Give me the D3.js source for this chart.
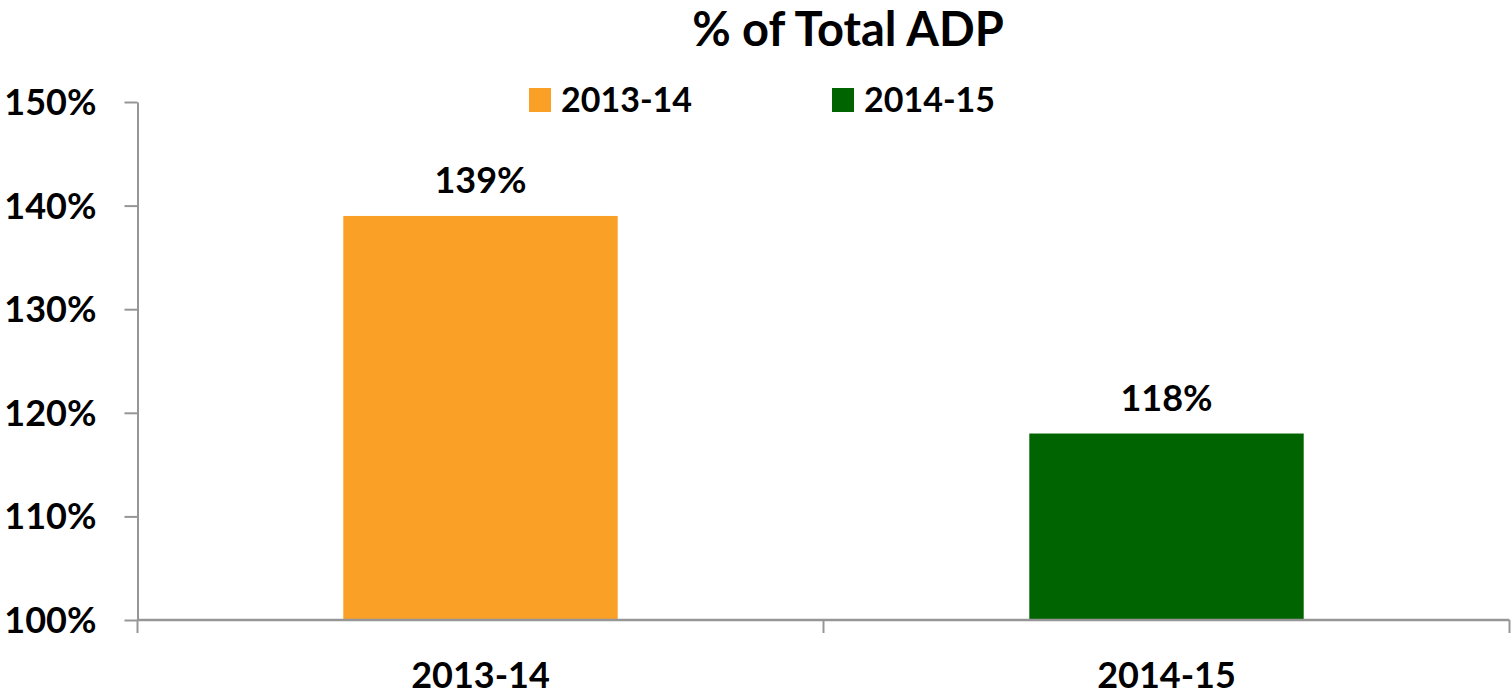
<!DOCTYPE html>
<html>
<head>
<meta charset="utf-8">
<script src="https://cdn.jsdelivr.net/npm/d3@7"></script>
<style>
  html, body { margin: 0; padding: 0; background: #fff; }
  svg { display: block; }
  text { font-family: Lato, "Open Sans", sans-serif; font-weight: 700; fill: #000; }
</style>
</head>
<body>
<svg id="chart" width="1511" height="697"></svg>
<script>
const title = "% of Total ADP";
const categories = ["2013-14", "2014-15"];
const values = [1.39, 1.18];
const seriesColors = ["#FBA026", "#006400"];
const yTicks = [1.0, 1.1, 1.2, 1.3, 1.4, 1.5];

const svg = d3.select("#chart");
const axisColor = "#969696";

const x = d3.scaleBand().domain(categories).range([137.5, 1509.5]).padding(0);
const y = d3.scaleLinear().domain([1.0, 1.5]).range([620, 102]);
const fmt = d3.format(".0%");
const barW = x.bandwidth() * 0.4;

// Title
svg.append("text")
  .attr("x", 848).attr("y", 46)
  .attr("text-anchor", "middle")
  .style("font-size", "47px")
  .text(title);

// Legend
const legendX = [529, 832];
categories.forEach((c, i) => {
  svg.append("rect")
    .attr("x", legendX[i]).attr("y", 88)
    .attr("width", 22).attr("height", 24)
    .attr("fill", seriesColors[i]);
  svg.append("text")
    .attr("x", legendX[i] + 32).attr("y", 111.5)
    .style("font-size", "34px")
    .text(c);
});

// Bars
svg.selectAll("rect.bar").data(values).enter().append("rect")
  .attr("class", "bar")
  .attr("x", (d, i) => x(categories[i]) + (x.bandwidth() - barW) / 2)
  .attr("y", d => y(d))
  .attr("width", barW)
  .attr("height", d => y(1.0) - y(d))
  .attr("fill", (d, i) => seriesColors[i]);

// Bar labels
svg.selectAll("text.lbl").data(values).enter().append("text")
  .attr("class", "lbl")
  .attr("x", (d, i) => x(categories[i]) + x.bandwidth() / 2)
  .attr("y", d => y(d) - 23)
  .attr("text-anchor", "middle")
  .style("font-size", "36px")
  .text(d => fmt(d));

// Y axis
const yAxis = svg.append("g").attr("transform", "translate(137.5,0)")
  .call(d3.axisLeft(y).tickValues(yTicks).tickFormat(fmt).tickSize(13).tickSizeOuter(0).tickPadding(28));
yAxis.select(".domain").attr("stroke", axisColor).attr("stroke-width", 2);
yAxis.selectAll(".tick line").attr("stroke", axisColor).attr("stroke-width", 2);
yAxis.selectAll(".tick text")
  .attr("dy", "12.5px")
  .style("font-size", "36px")
  .attr("fill", "#000")
  .attr("font-family", null);

// X axis
const xAxisG = svg.append("g").attr("transform", "translate(0,620)");
xAxisG.append("line")
  .attr("x1", x.range()[0]).attr("x2", x.range()[1])
  .attr("y1", 0).attr("y2", 0)
  .attr("stroke", axisColor).attr("stroke-width", 2.5);
const boundaries = [x(categories[0]), x(categories[1]), x(categories[1]) + x.bandwidth()];
xAxisG.selectAll("line.xt").data(boundaries).enter().append("line")
  .attr("class", "xt")
  .attr("x1", d => d).attr("x2", d => d)
  .attr("y1", 0).attr("y2", 13)
  .attr("stroke", axisColor).attr("stroke-width", 2);
xAxisG.selectAll("text.xl").data(categories).enter().append("text")
  .attr("class", "xl")
  .attr("x", d => x(d) + x.bandwidth() / 2)
  .attr("y", 68)
  .attr("text-anchor", "middle")
  .style("font-size", "36px")
  .text(d => d);
</script>
</body>
</html>
